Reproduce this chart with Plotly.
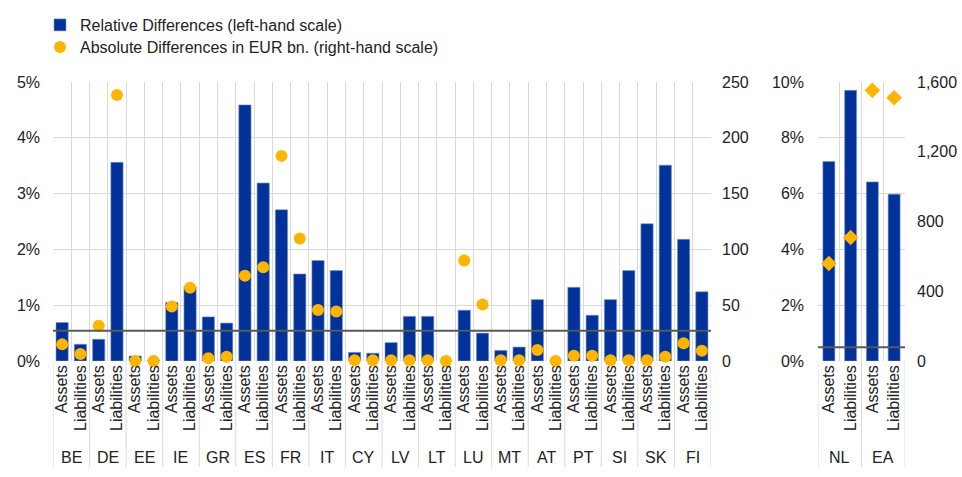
import plotly.graph_objects as go

# ---------------- data ----------------
countries_main = ["BE", "DE", "EE", "IE", "GR", "ES", "FR", "IT", "CY",
                  "LV", "LT", "LU", "MT", "AT", "PT", "SI", "SK", "FI"]
countries_side = ["NL", "EA"]
sides = ["Assets", "Liabilities"]

# Relative differences (%), Assets/Liabilities per country (left-hand scale)
rel_main = [0.69, 0.30,  0.39, 3.56,  0.09, 0.02,  1.05, 1.33,  0.79, 0.68,
            4.59, 3.19,  2.71, 1.56,  1.80, 1.62,  0.155, 0.14, 0.33, 0.80,
            0.80, 0.00,  0.91, 0.50,  0.19, 0.25,  1.10, 0.00,  1.32, 0.82,
            1.10, 1.62,  2.46, 3.51,  2.18, 1.24]
# Absolute differences, EUR bn (right-hand scale)
abs_main = [14.9, 6.3,  31.6, 238.4,  0.0, 0.0,  48.9, 65.6,  2.4, 3.9,
            76.4, 84.1,  183.8, 109.8,  45.6, 44.4,  0.6, 0.6,  0.6, 0.6,
            0.6, 0.0,  90.0, 50.7,  0.6, 0.6,  9.8, 0.0,  4.8, 4.8,
            0.6, 0.6,  0.6, 3.9,  16.0, 9.2]

rel_side = [7.15, 9.70, 6.42, 5.98]
abs_side = [559, 708, 1552, 1510]

threshold_main = 0.54
threshold_side = 0.49

left_ticks_main = [0, 1, 2, 3, 4, 5]
right_ticks_main = [0, 50, 100, 150, 200, 250]
left_ticks_side = [0, 2, 4, 6, 8, 10]
right_ticks_side = [0, 400, 800, 1200, 1600]

legend_names = ["Relative Differences (left-hand scale)",
                "Absolute Differences in EUR bn. (right-hand scale)"]

# ---------------- style ----------------
W, H = 962, 477
BLUE = "#003299"
ORANGE = "#FFB400"
GRID = "#d9d9d9"
TXT = "#222222"
FONT = "Arial, Liberation Sans, sans-serif"
FS = 16

def px_x(p):
    return p / W

def px_y(p):
    return 1 - p / H

y_dom = [px_y(361), px_y(82)]
x1_dom = [px_x(53), px_x(711)]
x2_dom = [px_x(818), px_x(905)]

labels_main = [s for c in countries_main for s in sides]
labels_side = [s for c in countries_side for s in sides]
xi_main = list(range(len(labels_main)))
xi_side = list(range(len(labels_side)))

fig = go.Figure()

fig.add_trace(go.Bar(
    x=xi_main, y=rel_main, xaxis="x", yaxis="y", name=legend_names[0],
    marker=dict(color=BLUE, line=dict(color="#8095cc", width=0.6)),
    width=0.67, legend="legend", showlegend=True))
fig.add_trace(go.Scatter(
    x=xi_main, y=abs_main, xaxis="x", yaxis="y2", mode="markers",
    name=legend_names[1], marker=dict(color=ORANGE, size=12, symbol="circle"),
    cliponaxis=False, legend="legend2", showlegend=True))
fig.add_trace(go.Bar(
    x=xi_side, y=rel_side, xaxis="x2", yaxis="y3", name=legend_names[0],
    marker=dict(color=BLUE, line=dict(color="#8095cc", width=0.6)),
    width=0.55, showlegend=False))
fig.add_trace(go.Scatter(
    x=xi_side, y=abs_side, xaxis="x2", yaxis="y4", mode="markers",
    name=legend_names[1], marker=dict(color=ORANGE, size=12, symbol="diamond"),
    cliponaxis=False, showlegend=False))

common_x = dict(
    showgrid=False, zeroline=False, showline=False, ticks="", automargin=False,
    tickangle=-90, tickfont=dict(size=FS, color=TXT, family=FONT),
    minor=dict(tick0=-0.5, dtick=1, showgrid=True, gridcolor=GRID, gridwidth=1),
    fixedrange=True)

common_y = dict(zeroline=False, ticks="", automargin=False,
                tickfont=dict(size=FS, color=TXT, family=FONT))

legend_common = dict(x=px_x(40), xanchor="left", yanchor="middle",
                     orientation="v", font=dict(size=FS, color=TXT),
                     bgcolor="rgba(0,0,0,0)")

fig.update_layout(
    width=W, height=H,
    margin=dict(l=0, r=0, t=0, b=0, autoexpand=False),
    paper_bgcolor="white", plot_bgcolor="white",
    font=dict(family=FONT, size=FS, color=TXT),
    xaxis=dict(domain=x1_dom, anchor="y", range=[-0.5, len(labels_main) - 0.5],
               tickmode="array", tickvals=xi_main, ticktext=labels_main, **common_x),
    xaxis2=dict(domain=x2_dom, anchor="y3", range=[-0.5, len(labels_side) - 0.5],
                tickmode="array", tickvals=xi_side, ticktext=labels_side, **common_x),
    yaxis=dict(domain=y_dom, anchor="x", range=[0, 5], tickmode="array",
               tickvals=left_ticks_main, ticktext=[f"{v}%" for v in left_ticks_main],
               showgrid=True, gridcolor=GRID, ticklabelstandoff=12, **common_y),
    yaxis2=dict(overlaying="y", side="right", anchor="x", range=[0, 250],
                tickmode="array", tickvals=right_ticks_main,
                ticktext=[str(v) for v in right_ticks_main],
                showgrid=False, ticklabelstandoff=10, **common_y),
    yaxis3=dict(domain=y_dom, anchor="x2", range=[0, 10], tickmode="array",
                tickvals=left_ticks_side, ticktext=[f"{v}%" for v in left_ticks_side],
                showgrid=True, gridcolor=GRID, ticklabelstandoff=13, **common_y),
    yaxis4=dict(overlaying="y3", side="right", anchor="x2", range=[0, 1600],
                tickmode="array", tickvals=right_ticks_side,
                ticktext=[f"{v:,}" for v in right_ticks_side],
                showgrid=False, ticklabelstandoff=11, **common_y),
    legend=dict(y=px_y(25), **legend_common),
    legend2=dict(y=px_y(47), **legend_common),
)

shapes = []
annotations = []
# group dividers and country labels under the axes
for axis, countries in (("x", countries_main), ("x2", countries_side)):
    for i in range(len(countries) + 1):
        shapes.append(dict(type="line", xref=axis, yref="paper",
                           x0=2 * i - 0.5, x1=2 * i - 0.5,
                           y0=px_y(361), y1=px_y(467),
                           line=dict(color=GRID, width=1), layer="below"))
    for i, c in enumerate(countries):
        annotations.append(dict(xref=axis, yref="paper", x=2 * i + 0.5,
                                y=px_y(457), text=c, showarrow=False,
                                font=dict(size=FS, color=TXT),
                                xanchor="center", yanchor="middle"))

# threshold lines
shapes.append(dict(type="line", xref="x domain", yref="y", x0=0, x1=1,
                   y0=threshold_main, y1=threshold_main,
                   line=dict(color="#595959", width=2), layer="above"))
shapes.append(dict(type="line", xref="x2 domain", yref="y3", x0=0, x1=1,
                   y0=threshold_side, y1=threshold_side,
                   line=dict(color="#595959", width=2), layer="above"))

fig.update_layout(shapes=shapes, annotations=annotations)

fig.write_html("out.html",
               config={"displayModeBar": False},
               post_script="document.body.style.margin='0';document.body.style.padding='0';")
